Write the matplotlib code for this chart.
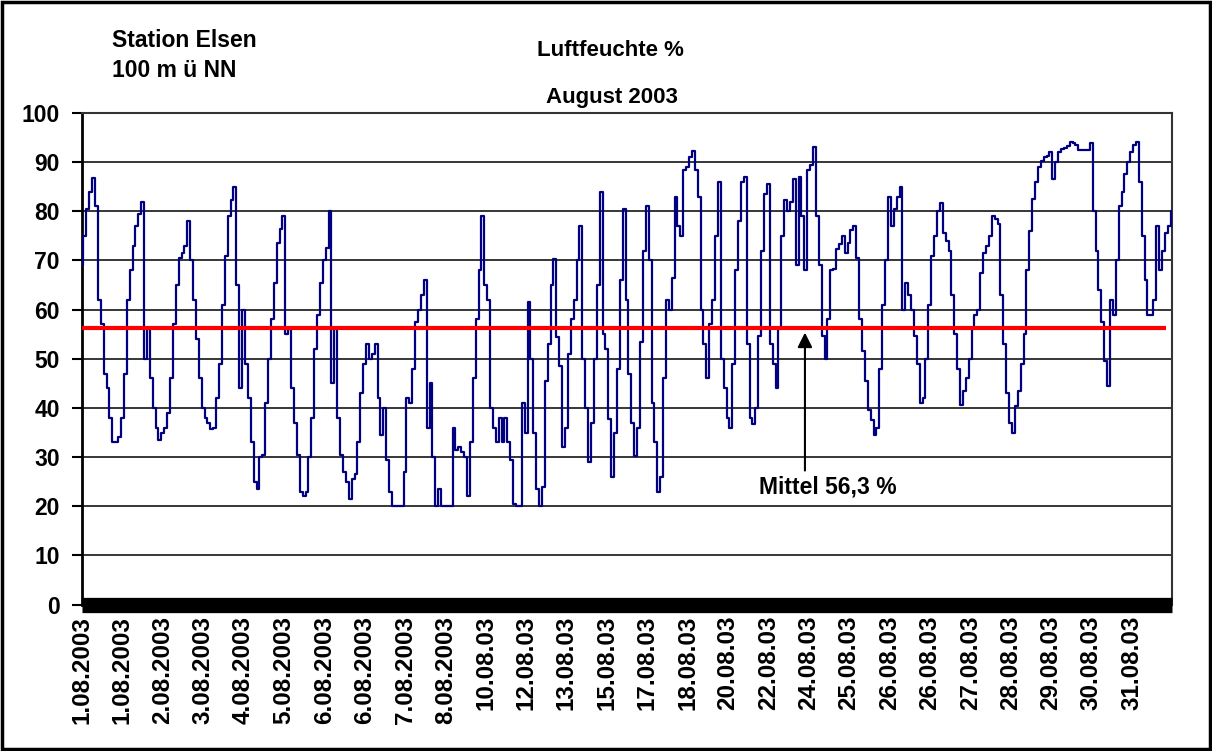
import matplotlib
matplotlib.use('Agg')
import matplotlib.pyplot as plt
import numpy as np
from matplotlib.patches import Rectangle

plt.rcParams['font.family'] = ['Liberation Sans', 'DejaVu Sans']
plt.rcParams['font.weight'] = 'bold'

feuchte_01_08 = [69, 75, 80.5, 84, 86.8, 81, 62, 57, 47, 44,
                 38, 33, 33, 34, 38, 47, 62, 68, 73, 77,
                 79.5, 82, 50, 56, 46, 40, 36, 33.5, 35, 36,
                 39, 46, 57, 65, 70.5, 71.5, 73, 78, 70, 62,
                 54, 46, 40, 38, 37, 35.7, 36, 42, 49, 61,
                 71, 79, 82.4, 85, 65, 44, 60, 49, 42, 33,
                 25, 23.5, 30, 30.5, 41, 50, 58, 65.5, 73.5, 76.5,
                 79, 55, 56, 44, 37, 30.5, 23]

feuchte_06_08 = [22, 23, 30, 38, 52, 59, 65.5, 70, 72.5, 80,
                 45, 56, 38, 30.5, 27, 25, 21.5, 25.5, 26.5, 33,
                 43, 49, 53, 50, 51, 53, 42, 34.4, 40, 29.5,
                 23, 20, 20, 20, 20, 27, 42, 41, 48, 57.5,
                 60, 63, 66, 36, 45, 30, 20, 23.5, 20, 20,
                 20, 20, 36, 31.5, 32, 31, 30, 22, 33, 46,
                 58, 68, 79, 65, 62, 40, 36, 33, 38, 33,
                 38, 33, 29.5, 20.5, 20]

feuchte_12_08 = [20, 41, 35, 61.5, 50, 35, 23.5, 20, 24, 45.5,
                 53, 65, 70.3, 54.5, 48.6, 32, 36, 51, 58, 62,
                 70, 77, 50, 40, 29, 37, 50, 65, 84, 55,
                 52, 37.8, 26, 35, 48, 66, 80.5, 62, 47, 37,
                 30.3, 36, 53.4, 72, 81, 70, 41, 33, 23, 26,
                 46, 62, 60, 66.5, 83, 77, 75, 88.5, 89, 91,
                 92.2, 88.5, 83, 60, 53, 46, 57, 62, 75, 86,
                 50, 44, 38, 36, 49, 68]

feuchte_22_08 = [78, 86, 87, 53, 38, 36.7, 40, 54.7, 72, 83.5,
                 85.5, 53, 49, 44, 56, 75, 82.4, 80, 82, 86.5,
                 69, 87, 79, 68, 88.5, 89.5, 93, 79, 69, 54.7,
                 50, 58, 68, 68.2, 72.3, 73.3, 75, 71.6, 73.6, 76.3,
                 77, 70.5, 58, 51.5, 45.5, 39.5, 37.5, 34.5, 36, 48,
                 61, 70, 83, 77, 80.4, 83, 85, 60, 65.5, 63,
                 60, 54.7, 49, 41, 42, 50, 61, 71, 75, 80,
                 81.7, 75.5, 74, 72, 63, 55]

feuchte_27_08 = [48, 40.5, 43.5, 46, 50, 56, 59, 60, 67.5, 71.6,
                 73, 75, 79, 78.5, 77.5, 63, 53, 43, 37, 35,
                 40.4, 43.5, 49, 55, 68, 76, 82.5, 86, 89, 90.3,
                 91, 91.2, 92, 86.5, 90, 92, 92.6, 92.9, 93.2, 94.2,
                 94, 93.5, 92.5, 92.5, 92.5, 92.5, 94, 80, 72, 64,
                 57.5, 49.5, 44.5, 62, 59, 70, 81, 84, 87.5, 90,
                 92, 93.5, 94.2, 86, 75, 66, 59, 59, 62, 77,
                 68, 72, 75.6, 77, 80]

feuchte = np.array(feuchte_01_08 + feuchte_06_08 + feuchte_12_08 + feuchte_22_08 + feuchte_27_08)

mittel = 56.3

datum_labels = ['1.08.2003', '1.08.2003', '2.08.2003', '3.08.2003', '4.08.2003',
                '5.08.2003', '6.08.2003', '6.08.2003', '7.08.2003', '8.08.2003',
                '10.08.03', '12.08.03', '13.08.03', '15.08.03', '17.08.03',
                '18.08.03', '20.08.03', '22.08.03', '24.08.03', '25.08.03',
                '26.08.03', '26.08.03', '27.08.03', '28.08.03', '29.08.03',
                '30.08.03', '31.08.03']
label_abstand = 14

# Grafik
fig = plt.figure(figsize=(12.12, 7.51), dpi=100)
ax = fig.add_axes([0.0677, 0.195, 0.8993, 0.6545])

x = np.arange(len(feuchte))
ax.plot(x, feuchte, color='#000080', lw=1.6, drawstyle='steps-mid', zorder=3)

# Mittelwert-Linie
ax.hlines(mittel, 0, len(feuchte) - 3, color='#ff0000', lw=3, zorder=4)

ax.set_xlim(0, len(feuchte) - 1)
ax.set_ylim(0, 100)
ax.set_yticks(np.arange(0, 101, 10))
ax.yaxis.grid(True, color='black', lw=1.1)
ax.set_axisbelow(True)

ax.set_xticks(np.arange(len(datum_labels)) * label_abstand)
ax.set_xticklabels(datum_labels, rotation=90, fontsize=17.5, fontweight='bold')
ax.tick_params(axis='x', length=0, pad=8)
ax.tick_params(axis='y', length=7, width=1.5, pad=9, labelsize=16.5, direction='out')

for s in ['top', 'right']:
    ax.spines[s].set_color('#333333')
    ax.spines[s].set_linewidth(1.5)
ax.spines['left'].set_linewidth(2)
ax.spines['bottom'].set_visible(False)

# dicker schwarzer Balken an der x-Achse
ax.axhline(0, color='black', lw=11, clip_on=False, zorder=5, solid_capstyle='butt')

# Beschriftung Mittelwert
ax.annotate('', xy=(250.7, 55.9), xytext=(250.7, 26.7),
            arrowprops=dict(arrowstyle='-|>', color='black', lw=1.5, mutation_scale=22))
ax.text(258.8, 22.6, 'Mittel 56,3 %', ha='center', va='baseline', fontsize=16.5, fontweight='bold')

# Titel
fig.text(0.0924, 0.9374, 'Station Elsen', fontsize=16.5, fontweight='bold', ha='left', va='baseline')
fig.text(0.0924, 0.8975, '100 m ü NN', fontsize=16.5, fontweight='bold', ha='left', va='baseline')
fig.text(0.504, 0.9254, 'Luftfeuchte %', fontsize=16, fontweight='bold', ha='center', va='baseline')
fig.text(0.505, 0.8628, 'August 2003', fontsize=16, fontweight='bold', ha='center', va='baseline')

# Rahmen um die ganze Grafik
fig.patches.append(Rectangle((0.002, 0.002), 0.996, 0.996, transform=fig.transFigure,
                             fill=False, edgecolor='black', lw=2.5))

fig.savefig('out.png', dpi=100)
